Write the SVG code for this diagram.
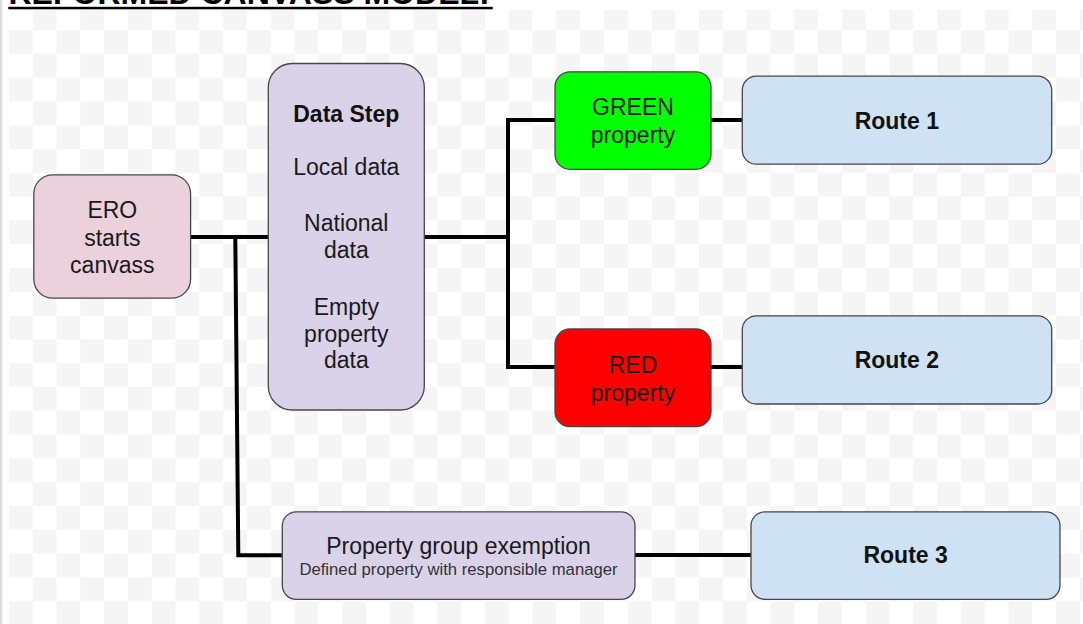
<svg xmlns="http://www.w3.org/2000/svg" width="1083" height="624" viewBox="0 0 1083 624">
  <defs>
    <pattern id="checker" x="8.9" y="6.2" width="47.6" height="47.6" patternUnits="userSpaceOnUse">
      <rect x="0" y="0" width="47.6" height="47.6" fill="#ffffff"/>
      <rect x="23.8" y="0" width="23.8" height="23.8" fill="#f5f5f5"/>
      <rect x="0" y="23.8" width="23.8" height="23.8" fill="#f5f5f5"/>
    </pattern>
    <style>
      .box { stroke: #474747; stroke-width: 1.3; }
      .t { font-family: "Liberation Sans", Arial, sans-serif; font-size: 23px; fill: #1a1a1a; text-anchor: middle; }
      .b { font-weight: bold; fill: #111; }
      .s { font-size: 16.7px; fill: #333; }
      .conn { fill: none; stroke: #000; stroke-width: 4; stroke-linejoin: miter; }
    </style>
  </defs>

  <rect x="0" y="0" width="1083" height="624" fill="#ffffff"/>
  <rect x="0" y="0" width="2.2" height="624" fill="#dcdcdc"/>
  <rect x="8.9" y="10" width="1074.1" height="614" fill="url(#checker)"/>

  <g id="title">
    <text x="8.5" y="4" font-family="'Liberation Sans', Arial, sans-serif" font-size="32" font-weight="bold" fill="#000">REFORMED CANVASS MODEL:</text>
    <rect x="8.3" y="6.8" width="484.4" height="2.5" fill="#000"/>
  </g>

  <g id="connectors">
    <path class="conn" d="M190.7 237 L268.3 237"/>
    <path class="conn" d="M235.3 237 L238.3 555.3 L282.3 555.3"/>
    <path class="conn" d="M424.3 237 L508 237"/>
    <path class="conn" d="M555 120 L508 120 L508 367 L555 367"/>
    <path class="conn" d="M711 120 L742.3 120"/>
    <path class="conn" d="M711 367 L742.3 367"/>
    <path class="conn" d="M635 555 L751 555"/>
  </g>

  <g id="ero">
    <rect class="box" x="33.8" y="174.8" width="156.8" height="123.4" rx="19" ry="19" fill="#ead1dc"/>
    <text class="t" x="112.3" y="218.3">ERO</text>
    <text class="t" x="112.3" y="246">starts</text>
    <text class="t" x="112.3" y="272.7">canvass</text>
  </g>

  <g id="data-step">
    <rect class="box" x="268.3" y="63.5" width="156" height="346.5" rx="24" ry="24" fill="#d9d2e9"/>
    <text class="t b" x="346.3" y="121.7">Data Step</text>
    <text class="t" x="346.3" y="175">Local data</text>
    <text class="t" x="346.3" y="230.7">National</text>
    <text class="t" x="346.3" y="258.3">data</text>
    <text class="t" x="346.3" y="315">Empty</text>
    <text class="t" x="346.3" y="341.7">property</text>
    <text class="t" x="346.3" y="368.3">data</text>
  </g>

  <g id="green">
    <rect class="box" x="555" y="71.8" width="156" height="97.5" rx="15" ry="15" fill="#00ff00"/>
    <text class="t" x="633" y="115">GREEN</text>
    <text class="t" x="633" y="143.3">property</text>
  </g>

  <g id="red">
    <rect class="box" x="555" y="329" width="156" height="97.7" rx="15" ry="15" fill="#ff0000"/>
    <text class="t" x="633" y="372.7">RED</text>
    <text class="t" x="633" y="400.7">property</text>
  </g>

  <g id="route1">
    <rect class="box" x="742.3" y="76.2" width="309.4" height="88" rx="14" ry="14" fill="#cfe2f3"/>
    <text class="t b" x="896.8" y="129.3">Route 1</text>
  </g>

  <g id="route2">
    <rect class="box" x="742.3" y="315.8" width="309.4" height="88.2" rx="14" ry="14" fill="#cfe2f3"/>
    <text class="t b" x="896.8" y="368.3">Route 2</text>
  </g>

  <g id="property-group">
    <rect class="box" x="282.3" y="511.8" width="352.7" height="87.5" rx="14" ry="14" fill="#d9d2e9"/>
    <text class="t" x="458.5" y="554">Property group exemption</text>
    <text class="t s" x="458.5" y="575">Defined property with responsible manager</text>
  </g>

  <g id="route3">
    <rect class="box" x="751" y="511.8" width="309" height="87.5" rx="14" ry="14" fill="#cfe2f3"/>
    <text class="t b" x="905.6" y="563.3">Route 3</text>
  </g>
</svg>
